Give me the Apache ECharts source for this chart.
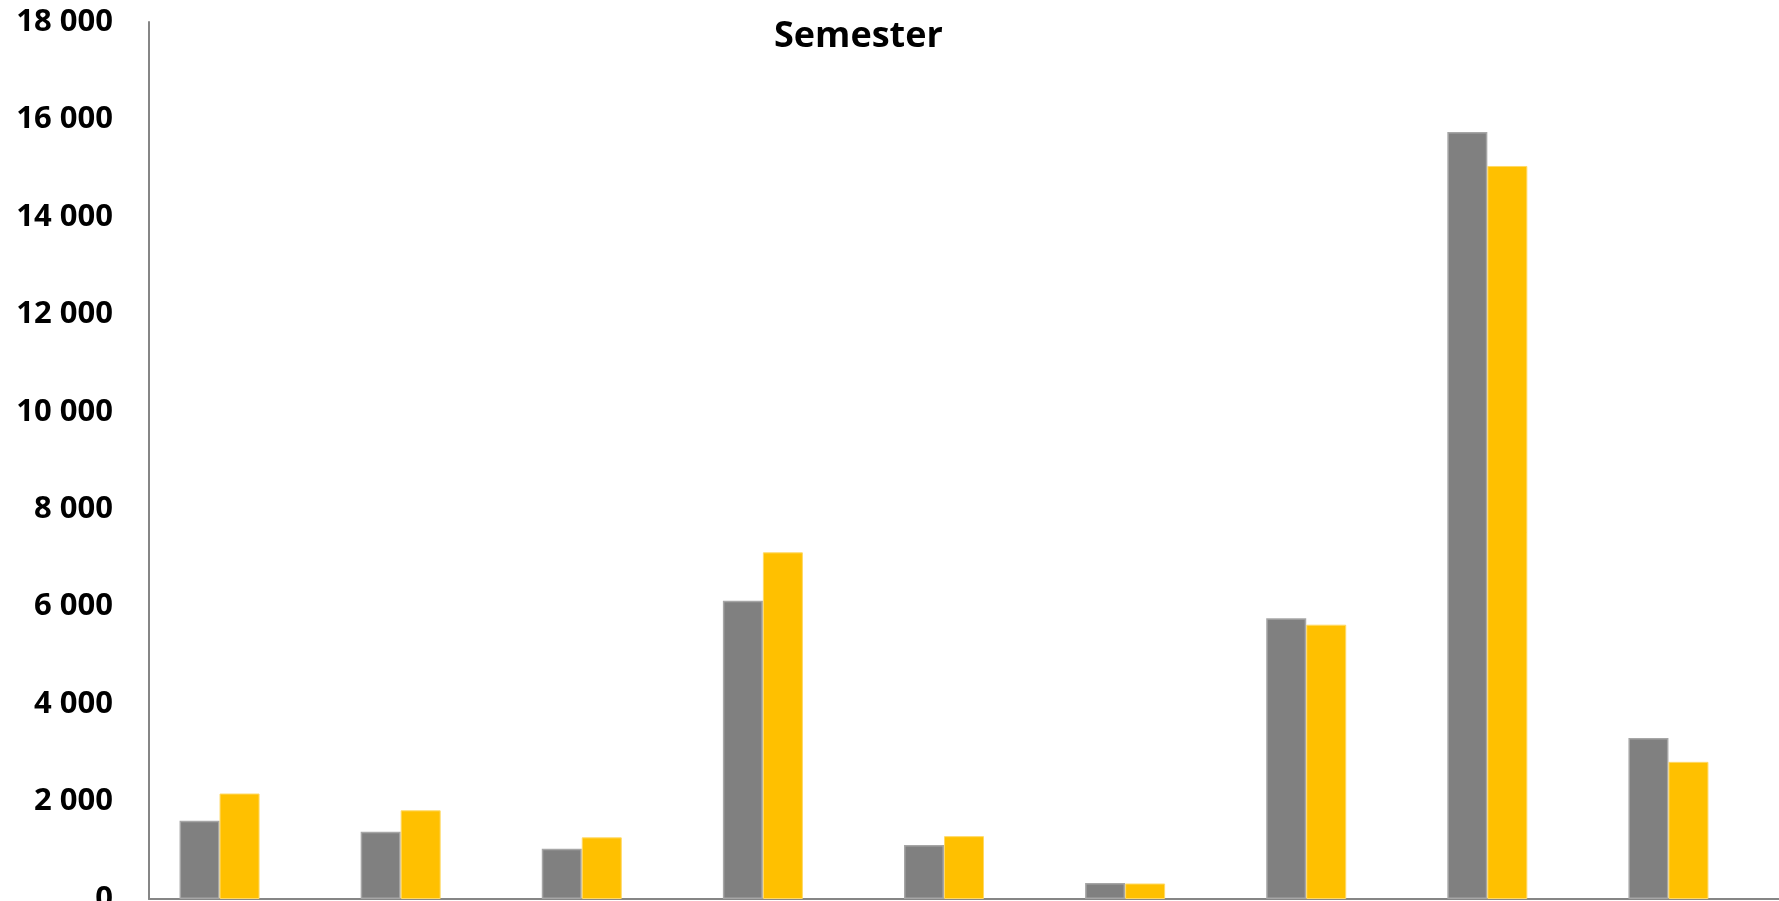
<!DOCTYPE html>
<html>
<head>
<meta charset="utf-8">
<script src="https://cdn.jsdelivr.net/npm/echarts@6/dist/echarts.min.js"></script>
<style>
html,body{margin:0;padding:0;background:#fff;overflow:hidden;}
#chart{width:1779px;height:901px;}
</style>
</head>
<body>
<div id="chart"></div>
<script>
var categories = ['1', '2', '3', '4', '5', '6', '7', '8', '9'];
var seriesGray = [1605, 1380, 1030, 6120, 1110, 330, 5760, 15740, 3305];
var seriesYellow = [2165, 1820, 1265, 7115, 1290, 318, 5630, 15045, 2815];
var seriesEmpty = [null, null, null, null, null, null, null, null, null];
var yTicks = { min: 0, max: 18000, interval: 2000 };

function fmt(v) {
  var s = String(v);
  return s.replace(/\B(?=(\d{3})+(?!\d))/g, ' ');
}

var chart = echarts.init(document.getElementById('chart'));
chart.setOption({
  animation: false,
  backgroundColor: '#ffffff',
  title: {
    text: 'Semester',
    left: 769,
    top: 12,
    textStyle: { fontFamily: 'Open Sans', fontWeight: 'bold', fontSize: 36, color: '#000', lineHeight: 40 }
  },
  grid: { left: 149, right: 0, top: 22, bottom: 2, containLabel: false, outerBoundsMode: 'none' },
  xAxis: {
    type: 'category',
    data: categories,
    axisLine: { show: true, lineStyle: { color: '#868686', width: 2 } },
    axisTick: { show: false },
    axisLabel: { show: false },
    splitLine: { show: false }
  },
  yAxis: {
    type: 'value',
    min: yTicks.min,
    max: yTicks.max,
    interval: yTicks.interval,
    axisLine: { show: true, lineStyle: { color: '#868686', width: 2 } },
    axisTick: { show: false },
    splitLine: { show: false },
    axisLabel: {
      margin: 36,
      formatter: fmt,
      fontFamily: 'Open Sans',
      fontWeight: 'bold',
      fontSize: 31,
      color: '#000',
      padding: [6, 0, 0, 0]
    }
  },
  series: [
    {
      name: 'A', type: 'bar', data: seriesGray, barWidth: 40, barGap: '0%',
      itemStyle: { color: '#808080', borderColor: '#a6a6a6', borderWidth: 1.5 }
    },
    {
      name: 'B', type: 'bar', data: seriesYellow, barWidth: 40, barGap: '0%',
      itemStyle: { color: '#ffc000', borderColor: '#ffd966', borderWidth: 1 }
    },
    {
      name: 'C', type: 'bar', data: seriesEmpty, barWidth: 40, barGap: '0%',
      itemStyle: { color: '#a5a5a5' }
    }
  ]
});
</script>
</body>
</html>
